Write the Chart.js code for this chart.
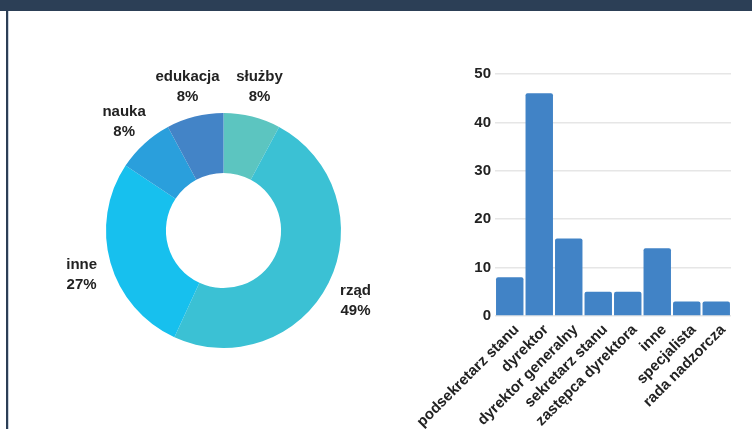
<!DOCTYPE html>
<html>
<head>
<meta charset="utf-8">
<script src="https://cdn.jsdelivr.net/npm/chart.js@4.4.1/dist/chart.umd.min.js"></script>
<style>
  html, body { margin: 0; padding: 0; background: #fff; }
  body { width: 752px; height: 429px; position: relative; overflow: hidden; font-family: "Liberation Sans", Arial, sans-serif; }
  .topbar { position: absolute; left: 0; top: 0; width: 752px; height: 11px; background: #2c3f56; }
  .sideline { position: absolute; left: 6px; top: 0; width: 2px; height: 429px; background: #2c3f56; }
  .sideline-light { position: absolute; left: 8px; top: 11px; width: 1px; height: 418px; background: #c9d2dc; }
  #wrapPie { position: absolute; left: 10px; top: 11px; width: 430px; height: 418px; }
  #wrapBar { position: absolute; left: 400px; top: 55px; width: 345px; height: 374px; }
</style>
</head>
<body>
<div class="topbar"></div>
<div class="sideline"></div>
<div class="sideline-light"></div>
<div id="wrapPie"><canvas id="sectorChart"></canvas></div>
<div id="wrapBar"><canvas id="positionChart"></canvas></div>

<script>
// sectors
var sectorLabels = ['służby', 'rząd', 'inne', 'nauka', 'edukacja'];
var sectorCounts = [4, 25, 14, 4, 4];
var sectorColors = ['#5cc5c0', '#3bc1d4', '#17c0ee', '#2a9fdc', '#4384c7'];

// positions
var positionLabels = ['podsekretarz stanu', 'dyrektor', 'dyrektor generalny', 'sekretarz stanu',
    'zastępca dyrektora', 'inne', 'specjalista', 'rada nadzorcza'];
var positionCounts = [8, 46, 16, 5, 5, 14, 3, 3];
var yTicks = [0, 10, 20, 30, 40, 50];

var labelFont = 'bold 15px "Liberation Sans", Arial, sans-serif';
var textColor = '#222';

// name + percent drawn outside each arc
var outsideLabels = {
    id: 'outsideLabels',
    afterDatasetsDraw: function (chart) {
        var ctx = chart.ctx;
        var meta = chart.getDatasetMeta(0);
        var data = chart.data.datasets[0].data;
        var total = data.reduce((t, v) => t + v, 0);
        ctx.save();
        ctx.font = labelFont;
        ctx.fillStyle = textColor;
        ctx.textAlign = 'center';
        ctx.textBaseline = 'middle';
        meta.data.forEach(function (arc, i) {
            var mid = (arc.startAngle + arc.endAngle) / 2;
            var r = arc.outerRadius + 30;
            var x = arc.x + Math.cos(mid) * r;
            var y = arc.y + Math.sin(mid) * (r + 4) + 3;
            var pct = Math.round(data[i] / total * 100) + '%';
            ctx.fillText(chart.data.labels[i], x, y - 10);
            ctx.fillText(pct, x, y + 10);
        });
        ctx.restore();
    }
};

new Chart(document.getElementById('sectorChart'), {
    type: 'doughnut',
    data: {
        labels: sectorLabels,
        datasets: [{
            data: sectorCounts,
            backgroundColor: sectorColors,
            borderWidth: 0
        }]
    },
    options: {
        responsive: true,
        maintainAspectRatio: false,
        animation: false,
        cutout: '49%',
        layout: { padding: { left: 96, right: 99, top: 101, bottom: 80 } },
        plugins: {
            legend: { display: false },
            tooltip: { enabled: false }
        }
    },
    plugins: [outsideLabels]
});

new Chart(document.getElementById('positionChart'), {
    type: 'bar',
    data: {
        labels: positionLabels,
        datasets: [{
            data: positionCounts,
            backgroundColor: '#4183c6',
            borderWidth: 0,
            borderRadius: 2,
            categoryPercentage: 1,
            barPercentage: 0.93
        }]
    },
    options: {
        responsive: true,
        maintainAspectRatio: false,
        animation: false,
        layout: { padding: { right: 14, top: 19 } },
        plugins: {
            legend: { display: false },
            tooltip: { enabled: false }
        },
        scales: {
            x: {
                grid: { display: false },
                border: { display: false },
                ticks: {
                    font: { size: 15, weight: 'bold', family: '"Liberation Sans", Arial, sans-serif' },
                    color: textColor,
                    minRotation: 45,
                    maxRotation: 45,
                    autoSkip: false,
                    labelOffset: 7,
                    padding: -3
                },
                afterFit: function (scale) { scale.height = 113; }
            },
            y: {
                min: 0,
                max: 50,
                afterBuildTicks: function (scale) {
                    scale.ticks = yTicks.map(v => ({ value: v }));
                },
                grid: { color: '#e6e6e6', lineWidth: 1.5, drawTicks: false },
                border: { display: false },
                ticks: {
                    font: { size: 15, weight: 'bold', family: '"Liberation Sans", Arial, sans-serif' },
                    color: textColor,
                    padding: 4
                },
                afterFit: function (scale) { scale.width = 95; }
            }
        }
    }
});
</script>
</body>
</html>
